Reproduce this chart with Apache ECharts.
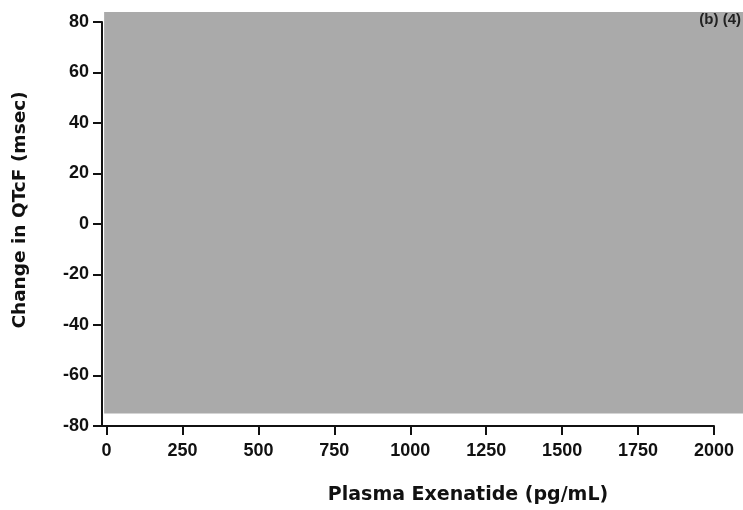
<!DOCTYPE html>
<html>
<head>
<meta charset="utf-8">
<style>
  html, body { margin: 0; padding: 0; background: #fff; }
  #chart { width: 743px; height: 510px; }
</style>
<script src="https://cdn.jsdelivr.net/npm/echarts@6/dist/echarts.min.js"></script>
</head>
<body>
<div id="chart"></div>
<script>
// x-axis ticks (pg/mL) and y range (msec)
const xTicks = [0, 250, 500, 750, 1000, 1250, 1500, 1750, 2000]
const yRange = [-80, 80]
const yStep = 20

// redacted (grey) region: [xStart, yTop, xEnd, yBottom]
const shadeX = [-8, 2100]
const shadeY = [84, -75]

const axisColor = '#111'
const tickFont = { fontFamily: 'Liberation Sans, Arial, sans-serif', fontWeight: 'bold', fontSize: 18, color: '#111' }
const titleFont = { fontFamily: 'DejaVu Sans, sans-serif', fontWeight: 'bold', fontSize: 19, color: '#111' }

const chart = echarts.init(document.getElementById('chart'))

chart.setOption({
  animation: false,
  grid: { left: 102, right: 29, top: 22, bottom: 82 },
  xAxis: {
    type: 'value',
    min: -15,
    max: 2000,
    name: 'Plasma Exenatide (pg/mL)',
    nameLocation: 'middle',
    nameGap: 60,
    nameTextStyle: { ...titleFont, padding: [0, 0, 0, 120] },
    splitLine: { show: false },
    axisLine: { show: true, onZero: false, lineStyle: { color: axisColor, width: 2 } },
    axisTick: { show: true, length: 9, customValues: xTicks, lineStyle: { color: axisColor, width: 2 } },
    axisLabel: { ...tickFont, margin: 16, customValues: xTicks, formatter: v => String(v) }
  },
  yAxis: {
    type: 'value',
    min: yRange[0],
    max: yRange[1],
    interval: yStep,
    name: 'Change in QTcF (msec)',
    nameLocation: 'middle',
    nameRotate: 90,
    nameGap: 72,
    nameTextStyle: { ...titleFont, fontSize: 18.5, padding: [0, 0, 0, 28] },
    splitLine: { show: false },
    axisLine: { show: true, onZero: false, lineStyle: { color: axisColor, width: 2 } },
    axisTick: { show: true, length: 9, lineStyle: { color: axisColor, width: 2 } },
    axisLabel: { ...tickFont, margin: 13, formatter: v => String(v) }
  },
  graphic: [{
    type: 'text',
    right: 2,
    top: 12,
    z: 100,
    style: {
      text: '(b) (4)',
      font: 'bold 15px "Liberation Sans", Arial, sans-serif',
      fill: '#222'
    }
  }],
  series: [{
    type: 'custom',
    clip: false,
    z: 0,
    encode: { x: [0, 2], y: [1, 3] },
    data: [[shadeX[0], shadeY[0], shadeX[1], shadeY[1]]],
    renderItem: (params, api) => {
      const p0 = api.coord([api.value(0), api.value(1)])
      const p1 = api.coord([api.value(2), api.value(3)])
      return {
        type: 'rect',
        shape: { x: p0[0], y: p0[1], width: p1[0] - p0[0], height: p1[1] - p0[1] },
        style: { fill: '#aaaaaa' }
      }
    }
  }]
})
</script>
</body>
</html>
